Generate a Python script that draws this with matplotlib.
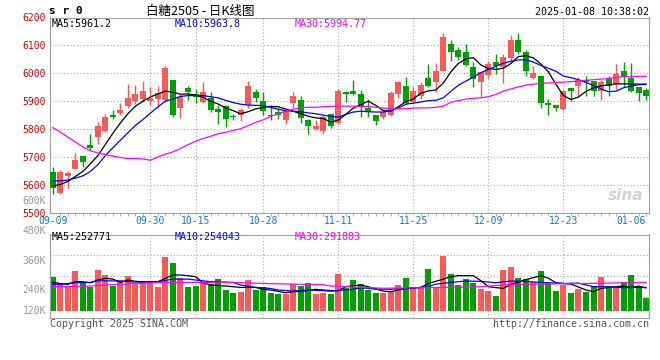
import numpy as np
import matplotlib
matplotlib.use("Agg")
import matplotlib.pyplot as plt

plt.rcParams['font.family'] = ['DejaVu Sans Mono', 'DejaVu Sans']

# ---- data (sugar SR2505, daily) ----
opens = [5645, 5569, 5632, 5658, 5702, 5742, 5771, 5792, 5852, 5857,
         5881, 5900, 5906, 5900, 5906, 5903, 5977, 5875, 5948, 5926,
         5896, 5912, 5872, 5881, 5848, 5849, 5885, 5932, 5899, 5852,
         5861, 5831, 5893, 5905, 5831, 5801, 5792, 5855, 5822, 5932,
         5938, 5926, 5875, 5852, 5843, 5852, 5924, 5956, 5896, 5920,
         5983, 5970, 6009, 6105, 6083, 6077, 6024, 5968, 5994, 6042,
         6021, 6054, 6120, 6077, 5983, 5992, 5893, 5885, 5873, 5948,
         5953, 5976, 5971, 5938, 5980, 5962, 6007, 5982, 5950, 5941]
highs = [5664, 5652, 5648, 5714, 5705, 5781, 5825, 5855, 5867, 5893,
         5962, 5957, 5974, 5950, 5956, 6025, 5977, 5924, 5956, 5944,
         5970, 5932, 5885, 5885, 5855, 5876, 5974, 5944, 5932, 5885,
         5876, 5873, 5932, 5917, 5835, 5831, 5849, 5855, 5944, 5938,
         5976, 5940, 5908, 5852, 5873, 5935, 5974, 5988, 5950, 5968,
         6033, 6036, 6143, 6120, 6095, 6105, 6039, 6006, 6045, 6069,
         6069, 6139, 6143, 6083, 6027, 5992, 5908, 5885, 5941, 5948,
         5986, 5992, 5974, 5976, 5992, 6033, 6039, 6036, 5950, 5946]
lows = [5566, 5566, 5589, 5655, 5664, 5724, 5745, 5790, 5835, 5849,
        5876, 5890, 5896, 5885, 5876, 5896, 5843, 5839, 5905, 5894,
        5893, 5861, 5819, 5807, 5833, 5828, 5876, 5896, 5849, 5831,
        5835, 5819, 5876, 5822, 5781, 5795, 5784, 5805, 5819, 5896,
        5922, 5843, 5843, 5815, 5837, 5846, 5912, 5890, 5890, 5906,
        5950, 5932, 6009, 6043, 6048, 6027, 5950, 5914, 5982, 5998,
        5965, 6039, 6069, 5992, 5980, 5876, 5849, 5864, 5867, 5899,
        5920, 5917, 5917, 5903, 5920, 5944, 5950, 5932, 5899, 5905]
closes = [5589, 5645, 5643, 5688, 5682, 5733, 5810, 5842, 5843, 5867,
          5913, 5924, 5938, 5912, 5929, 6018, 5849, 5914, 5932, 5914,
          5932, 5869, 5861, 5836, 5843, 5869, 5955, 5912, 5864, 5847,
          5849, 5864, 5917, 5839, 5810, 5810, 5843, 5810, 5938, 5926,
          5924, 5879, 5861, 5829, 5861, 5929, 5968, 5893, 5938, 5959,
          5953, 6009, 6130, 6075, 6060, 6030, 5978, 6006, 6033, 6027,
          6060, 6120, 6075, 6009, 6001, 5893, 5887, 5874, 5938, 5938,
          5976, 5968, 5938, 5968, 5956, 5998, 5986, 5938, 5929, 5920]

ma5 = [5596, 5601, 5612, 5630, 5648, 5675, 5705, 5745, 5785, 5822,
       5855, 5882, 5900, 5915, 5926, 5936, 5932, 5925, 5926, 5922,
       5914, 5900, 5890, 5876, 5866, 5855, 5862, 5872, 5878, 5881,
       5880, 5872, 5864, 5855, 5846, 5840, 5838, 5825, 5832, 5852,
       5875, 5887, 5900, 5885, 5866, 5864, 5880, 5898, 5908, 5928,
       5937, 5940, 5965, 6005, 6035, 6052, 6056, 6030, 6017, 6014,
       6018, 6035, 6060, 6063, 6055, 6033, 6005, 5960, 5920, 5906,
       5915, 5935, 5948, 5955, 5958, 5962, 5962, 5962, 5961, 5961]
ma10 = [5614, 5614, 5617, 5624, 5632, 5648, 5672, 5705, 5733, 5760,
        5787, 5813, 5834, 5857, 5880, 5900, 5908, 5917, 5920, 5920,
        5920, 5916, 5912, 5903, 5895, 5889, 5886, 5885, 5884, 5878,
        5871, 5866, 5864, 5862, 5858, 5855, 5850, 5845, 5843, 5852,
        5861, 5864, 5862, 5861, 5861, 5866, 5875, 5889, 5893, 5897,
        5902, 5903, 5912, 5935, 5957, 5972, 5986, 6002, 6014, 6025,
        6036, 6043, 6048, 6048, 6040, 6028, 6018, 6007, 5990, 5984,
        5977, 5967, 5956, 5944, 5934, 5936, 5948, 5954, 5959, 5960]
ma30 = [5805, 5789, 5771, 5754, 5736, 5722, 5714, 5708, 5703, 5698,
        5694, 5694, 5693, 5688, 5700, 5710, 5718, 5730, 5744, 5756,
        5766, 5774, 5783, 5788, 5795, 5801, 5812, 5824, 5833, 5845,
        5855, 5864, 5871, 5876, 5878, 5878, 5880, 5881, 5882, 5882,
        5882, 5881, 5881, 5878, 5875, 5873, 5873, 5873, 5875, 5876,
        5876, 5878, 5882, 5896, 5902, 5907, 5910, 5912, 5916, 5924,
        5936, 5944, 5951, 5957, 5961, 5964, 5965, 5967, 5968, 5970,
        5972, 5975, 5977, 5979, 5981, 5985, 5988, 5988, 5989, 5989]

# volume in thousands
volume_k = [315, 282, 259, 352, 279, 256, 358, 329, 265, 298,
            323, 279, 288, 284, 259, 433, 398, 311, 259, 263,
            285, 275, 304, 242, 224, 230, 298, 240, 259, 224,
            219, 219, 275, 265, 280, 215, 224, 217, 334, 253,
            300, 277, 240, 224, 224, 230, 271, 310, 256, 256,
            362, 256, 439, 334, 269, 304, 280, 246, 236, 207,
            356, 375, 311, 304, 288, 352, 279, 234, 269, 224,
            248, 230, 265, 315, 259, 253, 286, 327, 259, 192]

vma5_idx = [0, 1, 2, 3, 4, 5, 6, 7, 8, 9, 10, 11, 12, 13, 14, 15, 16, 17, 18, 19, 20, 21,
            23, 24, 25, 27, 28, 29, 31, 32, 33, 35, 36, 37, 38, 39,
            41, 42, 44, 45, 47, 49, 50, 52, 53, 54, 56, 57, 58, 60, 61, 63, 65, 66,
            67, 69, 71, 72, 73, 75, 76, 77, 78, 79]
vma5_k = [284, 278, 273, 288, 288, 282, 298, 308, 303, 284, 298, 290, 288, 288, 288, 308,
          327, 327, 323, 317, 282, 269,
          263, 259, 255, 255, 244, 240, 224, 230, 232, 244, 240, 237, 236, 259,
          269, 259, 234, 230, 249, 255, 278, 303, 317, 323, 323, 294, 259, 249, 273, 300,
          323, 308, 282, 274, 240, 230, 249, 259, 263, 255, 262, 253]
vma10_idx = [0, 1, 3, 5, 6, 9, 11, 13, 14, 16, 18, 19, 21, 24, 25, 27, 29, 30, 32, 34,
             36, 37, 40, 41, 43, 45, 47, 50, 51, 53, 55, 57, 59, 61, 63, 65, 68, 70, 72, 74,
             76, 78, 79]
vma10_k = [273, 273, 282, 284, 294, 292, 286, 286, 288, 303, 303, 298, 288, 284, 269, 255,
           249, 240, 234, 240, 236, 233, 244, 253, 245, 245, 248, 259, 274, 284, 292, 290,
           282, 292, 290, 284, 278, 280, 259, 259, 253, 255, 254]
vma30_idx = [0, 5, 7, 11, 15, 20, 24, 28, 32, 36, 37, 44, 52, 57, 60, 62, 66, 71, 79]
vma30_k = [259, 263, 269, 278, 284, 284, 284, 278, 274, 271, 263, 250, 255, 259, 269, 273,
           275, 278, 284]

date_labels = ['09-09', '09-30', '10-15', '10-28', '11-11', '11-25', '12-09', '12-23', '01-06']
date_idx = [0, 13, 19, 28, 38, 48, 58, 68, 77]
price_ticks = [5500, 5600, 5700, 5800, 5900, 6000, 6100, 6200]
vol_labels = ['600K', '480K', '360K', '240K', '120K']

# ---- styling ----
RED = '#f85a5a'
GREEN = '#00a000'
GRID = '#aaaaaa'
FRAME = '#a0a0a0'
W, H = 660, 360


def rect(l, t, r, b):
    return [l / W, 1 - b / H, (r - l) / W, (b - t) / H]


x = np.arange(len(closes))
o = np.array(opens)
c = np.array(closes)
colors = [RED if cc >= oo else GREEN for oo, cc in zip(o, c)]

fig = plt.figure(figsize=(6.6, 3.6), dpi=100)
ax = fig.add_axes(rect(50.5, 17.5, 649, 212.7))
axv = fig.add_axes(rect(50.5, 234.5, 649, 318))
xlim = (-0.31, 79.39)

# price panel
ax.set_xlim(*xlim)
ax.set_ylim(5500, 6200)
for lvl in price_ticks[1:-1]:
    ax.axhline(lvl, color=GRID, lw=0.8, ls=(0, (1, 2)), zorder=1)
for g in date_idx[1:-1]:
    ax.axvline(g, color=GRID, lw=0.8, ls=(0, (1, 2)), zorder=1)

ax.vlines(x, lows, highs, colors=colors, lw=1, zorder=2)
body = np.maximum(np.abs(c - o), 2)
ax.bar(x, body, bottom=np.minimum(o, c), width=0.8, color=colors, lw=0, zorder=3)
ax.plot(x, ma5, color='black', lw=0.9, zorder=4)
ax.plot(x, ma10, color='#0000ff', lw=0.9, zorder=4)
ax.plot(x, ma30, color='#ff00ff', lw=0.9, zorder=4)

ax.set_yticks(price_ticks)
ax.tick_params(axis='y', length=0, pad=3.5, labelcolor='#dd0000', labelsize=7)
ax.set_xticks(date_idx)
ax.set_xticklabels(date_labels)
ax.set_xticks(x, minor=True)
ax.tick_params(axis='x', which='major', length=0, pad=2.5, labelcolor='#0a7fc5', labelsize=7)
ax.tick_params(axis='x', which='minor', length=2, width=0.6, color=FRAME, direction='out')
for s in ax.spines.values():
    s.set_color(FRAME)
    s.set_linewidth(0.8)

ax.text(0.99, 0.05, 'sina', transform=ax.transAxes, ha='right', va='bottom',
        fontsize=11, fontstyle='italic', fontweight='bold', color='#d2d2d2',
        family='DejaVu Sans', zorder=0)

# volume panel
axv.set_xlim(*xlim)
axv.set_ylim(77700, 561700)
for f in (0.25, 0.5, 0.75):
    axv.plot([0, 1], [f, f], transform=axv.transAxes, color=GRID, lw=0.8,
             ls=(0, (1, 2)), zorder=1)
for g in date_idx[1:-1]:
    axv.axvline(g, color=GRID, lw=0.8, ls=(0, (1, 2)), zorder=1)
vol = np.array(volume_k) * 1000
axv.bar(x, vol - 120000, bottom=120000, width=0.8, color=colors, lw=0, zorder=2)
axv.plot(vma5_idx, np.array(vma5_k) * 1000, color='black', lw=0.9, zorder=3)
axv.plot(vma10_idx, np.array(vma10_k) * 1000, color='#0000ff', lw=0.9, zorder=3)
axv.plot(vma30_idx, np.array(vma30_k) * 1000, color='#ff00ff', lw=0.9, zorder=3)
axv.set_xticks([])
axv.set_yticks([])
for s in axv.spines.values():
    s.set_color(FRAME)
    s.set_linewidth(0.8)


def ftext(px, py, s, **kw):
    fig.text(px / W, 1 - py / H, s, va='center', **kw)


# header
ftext(49, 11.5, 's r 0', fontsize=8, fontweight='bold', color='black')
ftext(200, 11.5, '白糖2505 - 日K线图', ha='center', fontsize=9, color='black',
      family=['Noto Sans CJK SC', 'DejaVu Sans'])
ftext(649, 12, '2025-01-08 10:38:02', ha='right', fontsize=7.2, color='black')

ftext(52, 24, 'MA5:5961.2', fontsize=7.2, color='black')
ftext(175, 24, 'MA10:5963.8', fontsize=7.2, color='#0000ff')
ftext(295, 24, 'MA30:5994.77', fontsize=7.2, color='#ff00ff')

ftext(52, 237.5, 'MA5:252771', fontsize=7.2, color='black')
ftext(175, 237.5, 'MA10:254043', fontsize=7.2, color='#0000ff')
ftext(295, 237.5, 'MA30:291883', fontsize=7.2, color='#ff00ff')

for lab, py in zip(vol_labels, [200.7, 230.7, 260.7, 290, 310.5]):
    ftext(46, py, lab, ha='right', fontsize=7, color='#999999')

ftext(50, 324, 'Copyright 2025 SINA.COM', fontsize=7.2, color='#555555')
ftext(649, 324, 'http://finance.sina.com.cn', ha='right', fontsize=7.2, color='#555555')

fig.savefig('out.png', dpi=100)
